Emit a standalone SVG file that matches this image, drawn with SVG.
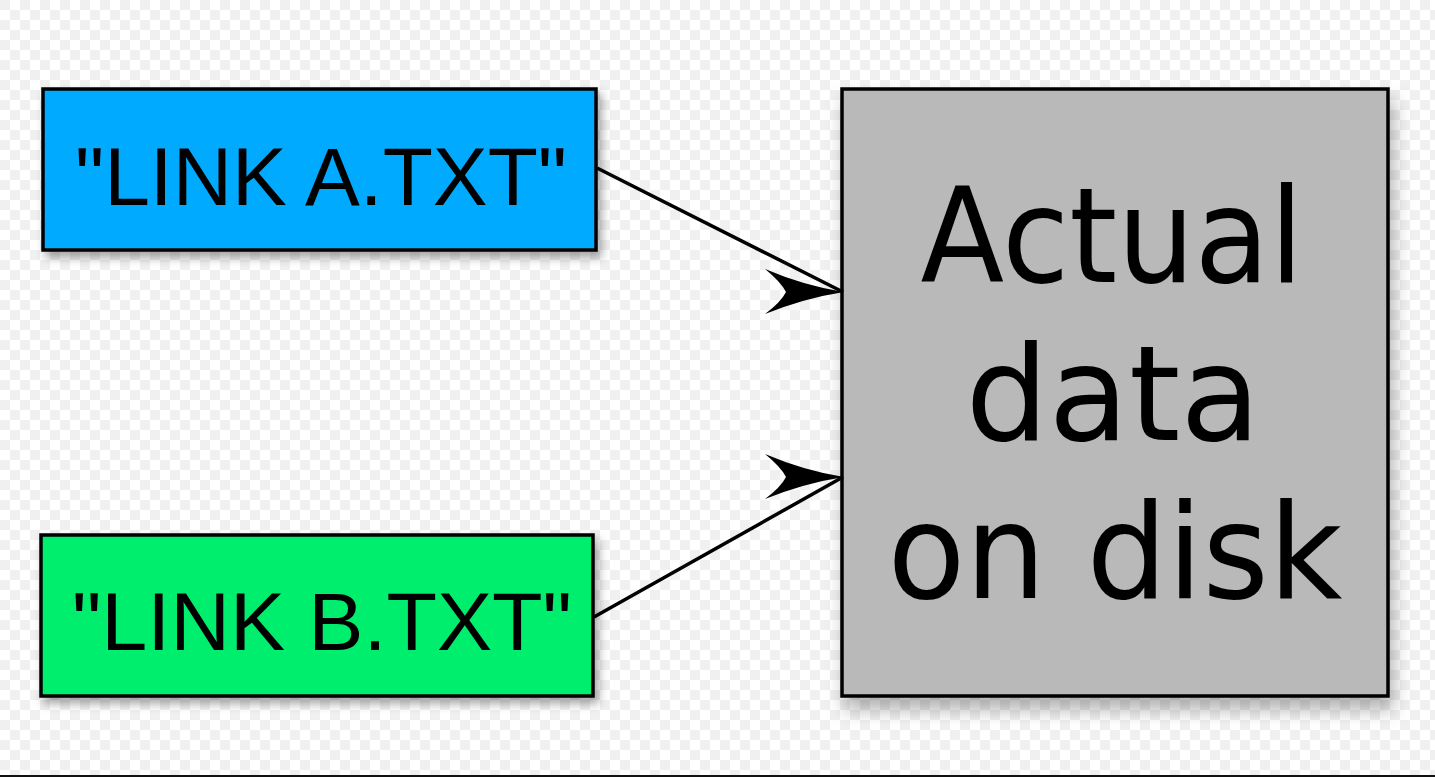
<svg xmlns="http://www.w3.org/2000/svg" width="1435" height="777" viewBox="0 0 1435 777">
<defs>
<pattern id="checker" x="0" y="0" width="20" height="20" patternUnits="userSpaceOnUse">
<rect width="20" height="20" fill="#ffffff"/>
<rect width="10" height="10" fill="#f0f0f0"/>
<rect x="10" y="10" width="10" height="10" fill="#f0f0f0"/>
</pattern>
<filter id="shadow" x="-10%" y="-10%" width="125%" height="130%">
<feDropShadow dx="4" dy="6" stdDeviation="5" flood-color="#000" flood-opacity="0.35"/>
</filter>
<filter id="shadowBig" x="-10%" y="-10%" width="125%" height="125%">
<feDropShadow dx="4" dy="12" stdDeviation="9" flood-color="#000" flood-opacity="0.3"/>
</filter>
<marker id="barb" markerUnits="userSpaceOnUse" viewBox="-80 -25 82 50" refX="0" refY="0" markerWidth="82" markerHeight="50" orient="0">
<path d="M1,0 Q-38,-6 -78,-23 Q-62,-10 -57,0 Q-62,10 -78,22 Q-38,6 1,0 Z" fill="#000"/>
</marker>
<style>
.box{stroke:#000;stroke-width:3.5}
.lbl{font-family:"Liberation Sans",Arial,sans-serif;font-size:82px;fill:#000;text-anchor:middle}
.big{font-family:"DejaVu Sans",sans-serif;font-size:131px;fill:#000;text-anchor:middle}
.conn{stroke:#000;stroke-width:3.5;fill:none}
</style>
</defs>
<rect width="1435" height="777" fill="url(#checker)"/>
<line x1="0" y1="776" x2="1435" y2="776" stroke="#111" stroke-width="2"/>
<g id="node-disk">
<rect class="box" x="842" y="89" width="546" height="607" fill="#b9b9b9" filter="url(#shadowBig)"/>
<text class="big" x="1112" y="282" textLength="383" lengthAdjust="spacingAndGlyphs">Actual</text>
<text class="big" x="1113" y="440">data</text>
<text class="big" x="1115" y="598" textLength="455" lengthAdjust="spacingAndGlyphs">on disk</text>
</g>
<g id="node-a">
<rect class="box" x="43" y="89" width="553" height="161" fill="#00aaff" filter="url(#shadow)"/>
<text class="lbl" x="321" y="205" textLength="492" lengthAdjust="spacingAndGlyphs">"LINK A.TXT"</text>
</g>
<g id="node-b">
<rect class="box" x="41" y="535" width="552" height="161" fill="#00ee6d" filter="url(#shadow)"/>
<text class="lbl" x="322" y="650" textLength="500" lengthAdjust="spacingAndGlyphs">"LINK B.TXT"</text>
</g>
<g id="connectors">
<path class="conn" d="M597,168 L843,292" marker-end="url(#barb)"/>
<path class="conn" d="M594,617 L843,477" marker-end="url(#barb)"/>
</g>
</svg>
